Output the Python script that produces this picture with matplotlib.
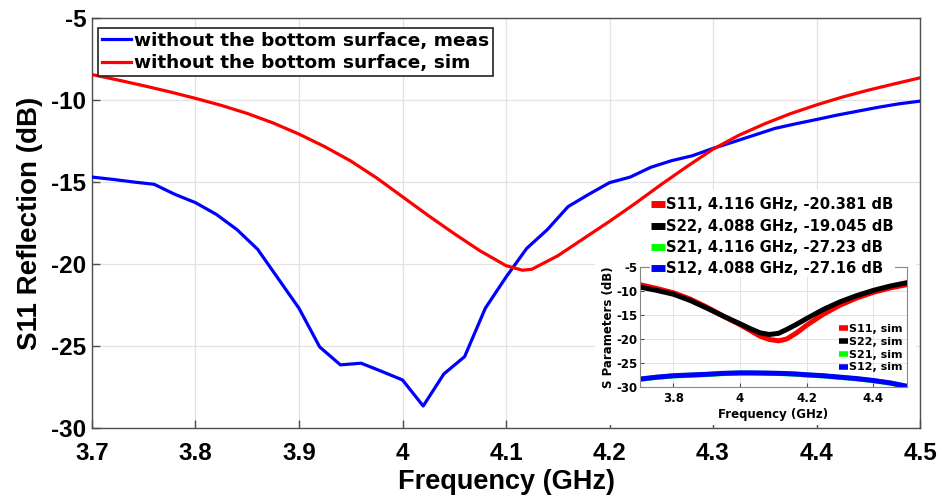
import matplotlib.pyplot as plt
from matplotlib.lines import Line2D
from matplotlib.patches import Rectangle

plt.rcParams["axes.unicode_minus"] = False

# Measured S11 (blue)
meas_freq = [3.70, 3.72, 3.74, 3.76, 3.78, 3.80, 3.82, 3.84, 3.86, 3.88,
             3.90, 3.92, 3.94, 3.96, 3.98, 4.00, 4.02, 4.04, 4.06, 4.08,
             4.10, 4.12, 4.14, 4.16, 4.18, 4.20, 4.22, 4.24, 4.26, 4.28,
             4.30, 4.32, 4.34, 4.36, 4.38, 4.40, 4.42, 4.44, 4.46, 4.48, 4.50]
meas_s11 = [-14.70, -14.84, -15.00, -15.14, -15.75, -16.26, -16.97, -17.90, -19.10, -20.90,
            -22.70, -25.06, -26.15, -26.05, -26.55, -27.07, -28.66, -26.70, -25.65, -22.70,
            -20.80, -19.05, -17.90, -16.50, -15.75, -15.04, -14.70, -14.10, -13.70, -13.40,
            -12.95, -12.55, -12.14, -11.73, -11.45, -11.19, -10.92, -10.68, -10.44, -10.23, -10.07]

# Simulated S11 (red)
sim_freq = [3.700, 3.725, 3.750, 3.775, 3.800, 3.825, 3.850, 3.875, 3.900, 3.925,
            3.950, 3.975, 4.000, 4.025, 4.050, 4.075, 4.100, 4.116, 4.125, 4.150,
            4.175, 4.200, 4.225, 4.250, 4.275, 4.300, 4.325, 4.350, 4.375, 4.400,
            4.425, 4.450, 4.475, 4.500]
sim_s11 = [-8.45, -8.78, -9.13, -9.50, -9.90, -10.33, -10.82, -11.40, -12.08, -12.85,
           -13.72, -14.75, -15.90, -17.05, -18.15, -19.20, -20.10, -20.38, -20.32, -19.50,
           -18.45, -17.40, -16.30, -15.15, -14.05, -13.00, -12.15, -11.45, -10.83, -10.30,
           -9.82, -9.40, -9.02, -8.65]

# Inset: simulated S parameters
in_freq = [3.70, 3.75, 3.80, 3.85, 3.90, 3.95, 4.00, 4.03, 4.06, 4.088,
           4.116, 4.14, 4.17, 4.20, 4.25, 4.30, 4.35, 4.40, 4.45, 4.50]
in_s11 = [-8.6, -9.4, -10.3, -11.6, -13.3, -15.2, -17.0, -18.2, -19.4, -20.1,
          -20.38, -20.0, -18.7, -17.1, -14.8, -12.9, -11.4, -10.2, -9.3, -8.6]
in_s22 = [-9.1, -9.8, -10.6, -11.9, -13.5, -15.2, -16.8, -17.8, -18.7, -19.05,
          -18.8, -18.0, -16.9, -15.7, -13.8, -12.2, -10.9, -9.8, -8.9, -8.2]
in_s21 = [-28.45, -28.05, -27.75, -27.6, -27.45, -27.25, -27.15, -27.15, -27.18, -27.2,
          -27.23, -27.3, -27.4, -27.55, -27.75, -28.05, -28.35, -28.75, -29.25, -29.95]
in_s12 = [-28.4, -28.0, -27.7, -27.55, -27.4, -27.2, -27.1, -27.1, -27.12, -27.16,
          -27.2, -27.25, -27.35, -27.5, -27.7, -28.0, -28.3, -28.7, -29.2, -29.9]

legend_main = ["without the bottom surface, meas", "without the bottom surface, sim"]
marker_labels = ["S11, 4.116 GHz, -20.381 dB", "S22, 4.088 GHz, -19.045 dB",
                 "S21, 4.116 GHz, -27.23 dB", "S12, 4.088 GHz, -27.16 dB"]
inset_labels = ["S11, sim", "S22, sim", "S21, sim", "S12, sim"]
inset_colors = ["#ff0000", "#000000", "#00ff00", "#0000ff"]

main_font = "Liberation Sans"
leg_font = "DejaVu Sans"
edge = "#4d4d4d"
gridc = "#e3e3e3"

fig = plt.figure(figsize=(9.44, 4.98), dpi=100)

# Main axes
ax = fig.add_axes([92 / 944, 1 - 428 / 498, 828 / 944, 410 / 498])
ax.plot(meas_freq, meas_s11, color="#0000ff", lw=2.3, label=legend_main[0], zorder=3)
ax.plot(sim_freq, sim_s11, color="#ff0000", lw=2.3, label=legend_main[1], zorder=3)
ax.set_xlim(3.7, 4.5)
ax.set_ylim(-30, -5)
ax.set_xticks([3.7, 3.8, 3.9, 4.0, 4.1, 4.2, 4.3, 4.4, 4.5])
ax.set_xticklabels(["3.7", "3.8", "3.9", "4", "4.1", "4.2", "4.3", "4.4", "4.5"])
ax.set_yticks([-30, -25, -20, -15, -10, -5])
ax.grid(True, color=gridc, lw=0.9)
ax.tick_params(direction="in", length=6, width=1, color=edge, pad=4)
ax.tick_params(axis="x", pad=10)
for lab in ax.get_xticklabels() + ax.get_yticklabels():
    lab.set_fontfamily(main_font)
    lab.set_fontweight("bold")
    lab.set_fontsize(17.5)
for s in ax.spines.values():
    s.set_color(edge)
    s.set_linewidth(1.0)
ax.set_xlabel("Frequency (GHz)", fontfamily=main_font, fontweight="bold", fontsize=19.5, labelpad=3)
ax.set_ylabel("S11 Reflection (dB)", fontfamily=main_font, fontweight="bold", fontsize=20, labelpad=6)

# white background behind the inset picture (hides grid, not the curves)
ax.add_patch(Rectangle((0.6075, 0.007), 0.388, 0.573, transform=ax.transAxes,
                       facecolor="white", edgecolor="none", zorder=1.8))

leg = ax.legend(loc="upper left", bbox_to_anchor=(98 / 944, 1 - 28 / 498),
                bbox_transform=fig.transFigure, prop={"family": leg_font, "weight": "bold", "size": 13.3},
                frameon=True, fancybox=False, edgecolor="#222222", framealpha=1,
                borderpad=0.2, borderaxespad=0, handlelength=1.6, handletextpad=0.15,
                labelspacing=0.25)
leg.get_frame().set_linewidth(1.2)

# Inset axes
axi = fig.add_axes([640 / 944, 1 - 386.7 / 498, 266.7 / 944, 119.2 / 498])
axi.plot(in_freq, in_s11, color=inset_colors[0], lw=3.6, label=inset_labels[0])
axi.plot(in_freq, in_s22, color=inset_colors[1], lw=3.6, label=inset_labels[1])
axi.plot(in_freq, in_s21, color=inset_colors[2], lw=3.6, label=inset_labels[2])
axi.plot(in_freq, in_s12, color=inset_colors[3], lw=3.6, label=inset_labels[3])
axi.set_xlim(3.7, 4.5)
axi.set_ylim(-30, -5)
axi.set_xticks([3.8, 4.0, 4.2, 4.4])
axi.set_xticklabels(["3.8", "4", "4.2", "4.4"])
axi.set_yticks([-30, -25, -20, -15, -10, -5])
axi.grid(True, color=gridc, lw=0.7)
axi.tick_params(direction="in", length=3, width=0.8, color=edge, pad=2)
axi.tick_params(axis="x", pad=4)
for lab in axi.get_xticklabels() + axi.get_yticklabels():
    lab.set_fontfamily(leg_font)
    lab.set_fontweight("bold")
    lab.set_fontsize(8.5)
for s in axi.spines.values():
    s.set_color("#888888")
    s.set_linewidth(0.8)
axi.set_xlabel("Frequency (GHz)", fontfamily=leg_font, fontweight="bold", fontsize=8.5, labelpad=2)
axi.set_ylabel("S Parameters (dB)", fontfamily=leg_font, fontweight="bold", fontsize=8.5, labelpad=1)

# markers legend above the inset
mk_handles = [Line2D([], [], color=c, lw=5, solid_capstyle="butt") for c in inset_colors]
leg_mk = axi.legend(mk_handles, marker_labels, loc="upper left",
                    bbox_to_anchor=(650 / 944, 1 - 196 / 498), bbox_transform=fig.transFigure,
                    prop={"family": leg_font, "weight": "bold", "size": 10.6},
                    frameon=True, facecolor="white", edgecolor="none", framealpha=1,
                    fancybox=False, borderpad=0.1, borderaxespad=0, handlelength=0.9,
                    handletextpad=0.1, labelspacing=0.42)
axi.add_artist(leg_mk)

# inset legend
in_handles = [Line2D([], [], color=c, lw=4, solid_capstyle="butt") for c in inset_colors]
axi.legend(in_handles, inset_labels, loc="lower right", bbox_to_anchor=(0.985, 0.12),
           prop={"family": leg_font, "weight": "bold", "size": 8},
           frameon=False, borderpad=0, borderaxespad=0, handlelength=0.8,
           handletextpad=0.15, labelspacing=0.25)

fig.savefig("out.png", dpi=100)
